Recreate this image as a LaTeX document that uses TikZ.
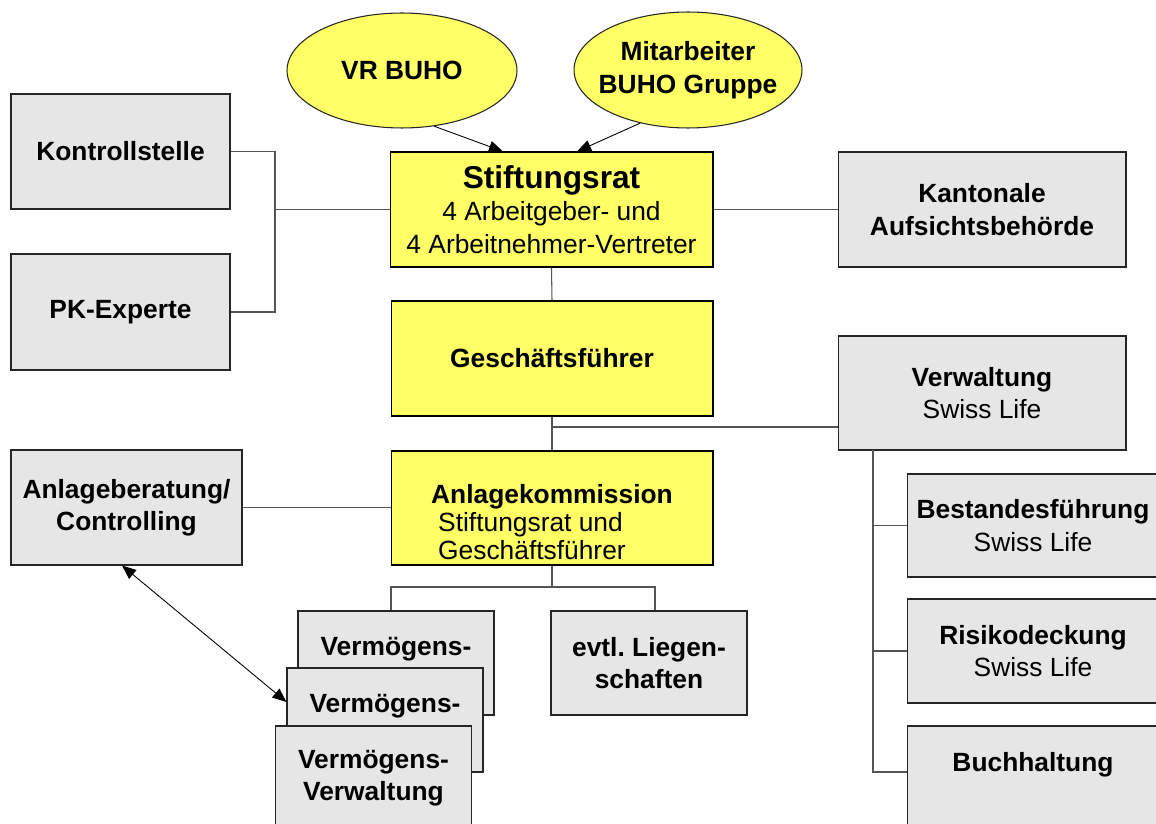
\documentclass[tikz,border=0pt]{standalone}
\usepackage{fontspec}
\setmainfont{Liberation Sans}
\usetikzlibrary{arrows.meta,shapes.geometric}
\definecolor{boxyellow}{HTML}{FFFF66}
\definecolor{boxgray}{HTML}{E6E6E6}
\definecolor{linegray}{HTML}{555555}
\frenchspacing
\begin{document}
\begin{tikzpicture}[x=0.02cm, y=-0.02cm,
    font=\fontsize{15}{18.5}\selectfont,
    ybox/.style={draw=black, line width=0.6pt, fill=boxyellow, align=center, inner sep=0pt},
    gbox/.style={draw=black!85, line width=0.6pt, fill=boxgray, align=center, inner sep=0pt},
    oval/.style={ellipse, draw=black!85, line width=0.6pt, fill=boxyellow, align=center, inner sep=0pt,
        font=\fontsize{15}{18.5}\selectfont\bfseries},
    link/.style={draw=linegray, line width=0.6pt},
    tip/.style={draw=black, line width=0.5pt, -{Triangle[length=8pt,width=6.5pt]}}]
    \clip (0,0) rectangle (1156,824);
    % top: electing bodies
    \node [oval, minimum width=4.6cm, minimum height=2.3cm] (vr) at (402,70.5) {VR BUHO};
    \node [oval, inner xsep=-5pt, minimum width=4.56cm, minimum height=2.32cm] (mit) at (688,70) {Mitarbeiter\\BUHO Gruppe};
    % centre column
    \node [ybox, minimum width=6.46cm, minimum height=2.3cm] (stift) at (551.5,209.5)
        {{\fontsize{18}{22}\selectfont\bfseries Stiftungsrat}\\4 Arbeitgeber- und\\4 Arbeitnehmer-Vertreter};
    \node [ybox, minimum width=6.44cm, minimum height=2.3cm] (gf) at (552,358.5) {\textbf{Geschäftsführer}};
    \node [ybox, align=left, font=\fontsize{15}{16}\selectfont, minimum width=6.44cm, minimum height=2.28cm] (anlkom) at (552,508)
        {\strut\\\textbf{Anlagekommission}\\\hspace*{4pt}Stiftungsrat und\\\hspace*{4pt}Geschäftsführer};
    % left column
    \node [gbox, minimum width=4.38cm, minimum height=2.3cm] (kontroll) at (120.5,151.5) {\textbf{Kontrollstelle}};
    \node [gbox, minimum width=4.38cm, minimum height=2.32cm] (pkexp) at (120.5,312) {\textbf{PK-Experte}};
    \node [gbox, minimum width=4.62cm, minimum height=2.3cm] (anlber) at (126.5,507.5) {\textbf{Anlageberatung/}\\\textbf{Controlling}};
    % right column
    \node [gbox, minimum width=5.76cm, minimum height=2.3cm] (kanton) at (982,209.5) {\textbf{Kantonale}\\\textbf{Aufsichtsbehörde}};
    \node [gbox, minimum width=5.76cm, minimum height=2.28cm] (verw) at (982,393) {\textbf{Verwaltung}\\Swiss Life};
    \node [gbox, minimum width=5.04cm, minimum height=2.06cm] (bestand) at (1033,525.5) {\textbf{Bestandesführung}\\Swiss Life};
    \node [gbox, minimum width=5.04cm, minimum height=2.08cm] (risiko) at (1033,651) {\textbf{Risikodeckung}\\Swiss Life};
    \node [gbox, minimum width=5.04cm, minimum height=2.08cm] (buch) at (1033,778) {\textbf{Buchhaltung}\\\mbox{}};
    % investment managers
    \node [gbox, minimum width=3.92cm, minimum height=2.08cm] (verm1) at (396,663) {\textbf{Vermögens-}\\\mbox{}};
    \node [gbox, minimum width=3.92cm, minimum height=2.08cm] (verm2) at (385,720) {\textbf{Vermögens-}\\\mbox{}};
    \node [gbox, minimum width=3.92cm, minimum height=2.08cm] (verm3) at (373.5,778) {\textbf{Vermögens-}\\\textbf{Verwaltung}};
    \node [gbox, minimum width=3.92cm, minimum height=2.08cm] (liegen) at (649,663) {\textbf{evtl. Liegen-}\\\textbf{schaften}};
    % connectors
    \coordinate (kj) at (275,209.5);
    \draw [link] (kontroll.east) -| (kj) |- (pkexp.east);
    \draw [link] (kj) -- (stift.west);
    \draw [link] (stift.east) -- (kanton.west);
    \draw [link] (stift.south) -- (gf.north);
    \draw [link] (gf.south) -- (anlkom.north);
    \coordinate (gj) at (552,427);
    \draw [link] (gj) -- (gj -| verw.west);
    \draw [link] (anlber.east) -- (anlber.east -| anlkom.west);
    \coordinate (aj) at (552,587);
    \coordinate (vj) at (391,587);
    \coordinate (lj) at (655,587);
    \draw [link] (anlkom.south) -- (aj);
    \draw [link] (vj |- verm1.north) -- (vj) -- (lj) -- (lj |- liegen.north);
    \coordinate (vb) at (873,450);
    \draw [link] (vb) |- (bestand.west);
    \draw [link] (vb) |- (risiko.west);
    \draw [link] (vb) |- ([yshift=0.12cm]buch.west);
    % arrows
    \draw [tip] (vr.-60) -- ([xshift=-0.97cm]stift.north);
    \draw [tip] (mit.-132) -- ([xshift=0.51cm]stift.north);
    \draw [tip, {Triangle[length=8pt,width=6.5pt]}-{Triangle[length=8pt,width=6.5pt]}]
        ([xshift=-0.09cm]anlber.south) -- ([yshift=0.36cm]verm2.west);
\end{tikzpicture}
\end{document}
